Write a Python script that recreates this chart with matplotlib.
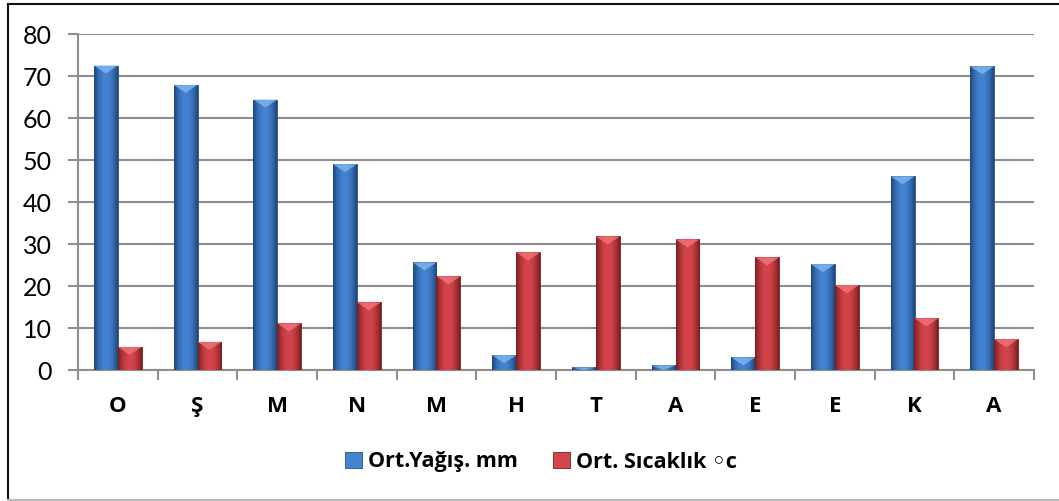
import numpy as np
import matplotlib.pyplot as plt
from matplotlib.patches import Polygon, Patch
from matplotlib.lines import Line2D
from matplotlib.colors import to_rgb

# Aylık ortalama yağış ve sıcaklık
aylar = ['O', 'Ş', 'M', 'N', 'M', 'H', 'T', 'A', 'E', 'E', 'K', 'A']
yagis = [72.5, 67.9, 64.4, 49.0, 25.6, 3.5, 0.6, 1.1, 3.0, 25.2, 46.1, 72.3]
sicaklik = [5.5, 6.7, 11.1, 16.1, 22.3, 28.0, 31.8, 31.1, 26.8, 20.2, 12.3, 7.3]
etiketler = ['Ort.Yağış. mm', 'Ort. Sıcaklık ◦c']
y_ticks = list(range(0, 81, 10))

plt.rcParams['font.family'] = ['Open Sans', 'DejaVu Sans']

fig = plt.figure(figsize=(10.59, 5.01), dpi=100)
ax = fig.add_axes([78 / 1059, 1 - 370 / 501, (1034 - 78) / 1059, (370 - 34) / 501])

x = np.arange(len(aylar))
w = 0.3
grid_c = '#8e8e8e'

# colour ramp: dark edge -> lighter centre -> dark edge
def ramp(dark, mid):
    t = np.linspace(-1, 1, 64)
    f = (1 - np.abs(t) ** 2.0)[:, None]
    dark = np.array(to_rgb(dark))
    mid = np.array(to_rgb(mid))
    return (dark + (mid - dark) * f)[None, :, :]

styles = [
    dict(vals=yagis, off=-w / 2, dark='#1f4678', mid='#4383d2', top='#7db4ee', edge='#2a4f80'),
    dict(vals=sicaklik, off=w / 2, dark='#7a1d20', mid='#d4454b', top='#ef7276', edge='#7a2022'),
]

handles = []
for s, lab in zip(styles, etiketler):
    bars = ax.bar(x + s['off'], s['vals'], width=w, color=s['mid'],
                  edgecolor=s['edge'], linewidth=0.6, zorder=3)
    img = ramp(s['dark'], s['mid'])
    for b in bars:
        x0, bw, h = b.get_x(), b.get_width(), b.get_height()
        im = ax.imshow(img, extent=[x0, x0 + bw, 0, h], aspect='auto',
                       zorder=3.1, interpolation='bilinear')
        im.set_clip_path(b)
        c = min(1.9, h)
        tri = Polygon([(x0, h), (x0 + bw, h), (x0 + bw / 2, h - c)],
                      closed=True, facecolor=s['top'], edgecolor='none',
                      alpha=0.85, zorder=3.2)
        ax.add_patch(tri)
    handles.append(Patch(facecolor=s['mid'], edgecolor=s['edge'], linewidth=0.6, label=lab))

ax.set_xlim(-0.5, len(aylar) - 0.5)
ax.set_ylim(0, 80)
ax.set_yticks(y_ticks, labels=[str(v) for v in y_ticks], fontsize=18, family='Lato')
ax.yaxis.grid(True, color=grid_c, linewidth=1.5, zorder=0)
ax.set_axisbelow(True)

ax.set_xticks(x)
ax.set_xticklabels(aylar, fontsize=16, fontweight='bold')
ax.set_xticks(np.arange(-0.5, len(aylar), 1), minor=True)
ax.tick_params(axis='x', which='major', length=0, pad=19)
ax.tick_params(axis='x', which='minor', length=7, width=1.5, color=grid_c, direction='out')
ax.tick_params(axis='y', length=7, width=1.5, color=grid_c, pad=12)

for sp in ['top', 'right']:
    ax.spines[sp].set_visible(False)
for sp in ['left', 'bottom']:
    ax.spines[sp].set_color(grid_c)
    ax.spines[sp].set_linewidth(1.5)

fig.legend(handles=handles, loc='center', bbox_to_anchor=(541 / 1059, 1 - 462 / 501),
           ncol=2, frameon=False,
           prop=dict(family=['Open Sans', 'DejaVu Sans'], size=15.5, weight='bold'),
           handlelength=0.8, handleheight=0.8, handletextpad=0.3, columnspacing=1.6)

# chart frame
fig.add_artist(Line2D([8 / 1059, 1], [1 - 4 / 501, 1 - 4 / 501], color='#111111', lw=1.5))
fig.add_artist(Line2D([8 / 1059, 8 / 1059], [1 - 4 / 501, 1 - 500 / 501], color='#111111', lw=1.5))
fig.add_artist(Line2D([8 / 1059, 1], [1 - 500 / 501, 1 - 500 / 501], color='#bbbbbb', lw=1.5))

fig.savefig('out.png', dpi=100)
